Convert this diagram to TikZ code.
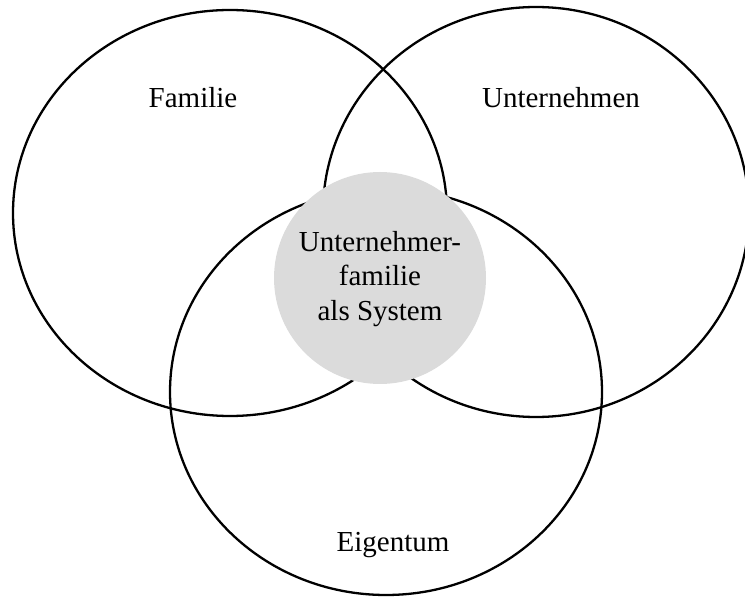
\documentclass[tikz,border=0pt]{standalone}
\usepackage{fontspec}
\setmainfont{Liberation Serif}
\begin{document}
\begin{tikzpicture}[x=1pt,y=1pt,
  ring/.style={draw=black,line width=2.3pt},
  core/.style={fill=black!14,draw=none},
  lbl/.style={font=\fontsize{29}{34.5}\selectfont,inner sep=0pt,align=center}]
\useasboundingbox (0,0) rectangle (745,598);
\clip (0,0) rectangle (745,598);
\draw[ring] (230,385) ellipse [x radius=217,y radius=203];
\draw[ring] (536,386) ellipse [x radius=213,y radius=205];
\draw[ring] (386,206) ellipse [x radius=216,y radius=203];
\fill[core] (380,320) circle [radius=106];
\node[lbl] (fam) at (193,500) {Familie};
\node[lbl] (unt) at (561,500) {Unternehmen};
\node[lbl] (eig) at (393,53) {Eigentum};
\node[lbl] (sys) at (380,319) {Unternehmer-\\familie\\als System};
\end{tikzpicture}
\end{document}
